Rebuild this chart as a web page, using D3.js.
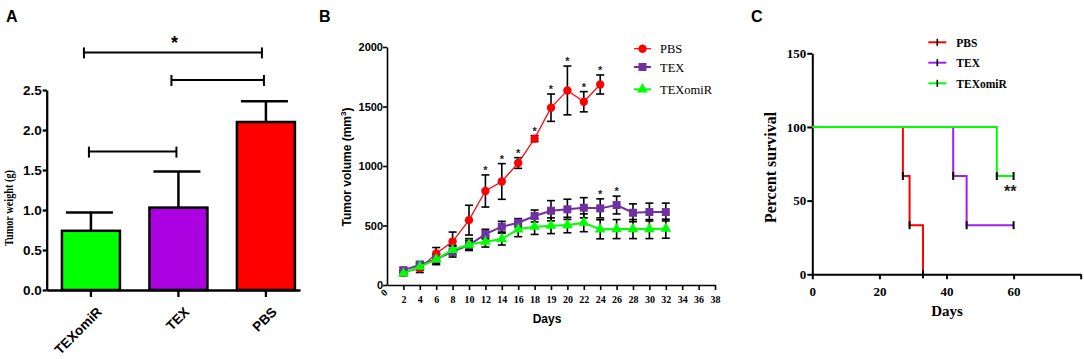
<!DOCTYPE html>
<html>
<head>
<meta charset="utf-8">
<script src="https://cdn.jsdelivr.net/npm/d3@7"></script>
<style>
  body { margin: 0; background: #fff; }
  svg { display: block; }
</style>
</head>
<body>
<div id="chart"></div>
<script>
const width = 1084;
const height = 359;
const sans = "Arial, 'Liberation Sans', sans-serif";
const serif = "'Times New Roman', 'Liberation Serif', serif";

// ---- Panel A data : tumour weight
const groupsA = ["TEXomiR", "TEX", "PBS"];
const weightMean = [0.74, 1.03, 2.1];
const weightErr = [0.23, 0.45, 0.26];
const weightTicks = [0, 0.5, 1.0, 1.5, 2.0, 2.5];
const colorsA = ["#00ff00", "#ab00e0", "#ff0000"];

// ---- Panel B data : tumour volume over time (x = position in dayLabels)
const dayLabels = ["2","4","6","8","10","12","14","16","18","19","20","22","24","26","28","30","32","34","36","38"];
const pbsMean = [105, 140, 265, 365, 545, 790, 870, 1025, 1230, 1490, 1635, 1540, 1685];
const pbsErr  = [20, 35, 50, 80, 125, 135, 150, 45, 25, 115, 205, 85, 80];
const texMean = [125, 168, 218, 280, 336, 428, 490, 523, 580, 624, 636, 649, 644, 672, 607, 613, 613];
const texErr  = [20, 30, 40, 45, 40, 40, 45, 35, 50, 85, 85, 85, 80, 75, 75, 75, 75];
const omiMean = [98, 154, 216, 294, 340, 364, 386, 468, 490, 498, 504, 523, 468, 470, 470, 470, 473];
const omiErr  = [20, 30, 45, 40, 50, 45, 50, 62, 65, 66, 65, 75, 80, 80, 80, 80, 80];
const pbsStars = [5, 6, 7, 8, 9, 10, 11, 12];   // indexes with "*"
const texStars = [12, 13];
const volumeTicks = [0, 500, 1000, 1500, 2000];

// ---- Panel C data : survival
const pbsSurv = [[0, 100], [27, 66.7], [29, 33.3], [33, 0]];
const texSurv = [[0, 100], [42, 66.7], [46, 33.3], [60, 33.3]];
const omiSurv = [[0, 100], [55, 66.7], [60, 66.7]];
const pbsCensor = [[27, 66.7], [29, 33.3], [33, 0]];
const texCensor = [[42, 66.7], [46, 33.3], [60, 33.3]];
const omiCensor = [[55, 66.7], [60, 66.7]];
const survYTicks = [0, 50, 100, 150];
const survXTicks = [0, 20, 40, 60, 80];
const survXLabels = ["0", "20", "40", "60", ""];

const svg = d3.select("#chart")
  .append("svg")
  .attr("width", width)
  .attr("height", height);

// panel letters
svg.selectAll("text.panel")
  .data([["A", 6], ["B", 319], ["C", 751]])
  .join("text")
    .attr("class", "panel")
    .attr("x", d => d[1])
    .attr("y", 22)
    .attr("font-family", sans)
    .attr("font-weight", "bold")
    .attr("font-size", 16)
    .text(d => d[0]);

const styleAxis = (g, font, size, weight, lw) => {
  g.selectAll("text").attr("font-family", font).attr("font-size", size).attr("font-weight", weight).attr("fill", "#000");
  g.selectAll("line, path").attr("stroke", "#000").attr("stroke-width", lw);
};

/*----------------------------- */
// Panel A : bar chart
const xA = d3.scaleBand()
  .domain(groupsA)
  .range([46.7, 300])
  .paddingInner(0.337)
  .paddingOuter(0.116)
  .align(0.75);

const yA = d3.scaleLinear().domain([0, 2.5]).range([290, 90]);

const gA = svg.append("g");

gA.selectAll("line.errA")
  .data(groupsA)
  .join("line")
    .attr("class", "errA")
    .attr("x1", d => xA(d) + xA.bandwidth() / 2)
    .attr("x2", d => xA(d) + xA.bandwidth() / 2)
    .attr("y1", (d, i) => yA(weightMean[i]))
    .attr("y2", (d, i) => yA(weightMean[i] + weightErr[i]))
    .attr("stroke", "#000")
    .attr("stroke-width", 2.5);

gA.selectAll("line.capA")
  .data(groupsA)
  .join("line")
    .attr("class", "capA")
    .attr("x1", d => xA(d) + xA.bandwidth() / 2 - 25)
    .attr("x2", d => xA(d) + xA.bandwidth() / 2 + 22)
    .attr("y1", (d, i) => yA(weightMean[i] + weightErr[i]))
    .attr("y2", (d, i) => yA(weightMean[i] + weightErr[i]))
    .attr("stroke", "#000")
    .attr("stroke-width", 2.5);

gA.selectAll("rect")
  .data(groupsA)
  .join("rect")
    .attr("x", d => xA(d))
    .attr("width", xA.bandwidth())
    .attr("y", (d, i) => yA(weightMean[i]))
    .attr("height", (d, i) => yA(0) - yA(weightMean[i]))
    .attr("fill", (d, i) => colorsA[i])
    .attr("stroke", "#000")
    .attr("stroke-width", 2.5);

gA.append("g")
  .attr("transform", "translate(46.7,0)")
  .call(d3.axisLeft(yA).tickValues(weightTicks).tickFormat(d3.format(".1f")).tickSize(4).tickPadding(1).tickSizeOuter(0))
  .call(g => styleAxis(g, sans, 13.5, "bold", 2.3));

gA.append("g")
  .attr("transform", "translate(0,290)")
  .call(d3.axisBottom(xA).tickSize(7).tickSizeOuter(0))
  .call(g => styleAxis(g, sans, 13.5, "bold", 2.3))
  .call(g => g.selectAll(".tick text")
    .attr("text-anchor", "end")
    .attr("y", 0)
    .attr("dy", "0.71em")
    .attr("transform", "translate(5,16) rotate(-45)"));

gA.append("text")
  .attr("transform", "translate(13,208) rotate(-90)")
  .attr("text-anchor", "middle")
  .attr("font-family", serif)
  .attr("font-weight", "bold")
  .attr("font-size", 13)
  .attr("textLength", 76)
  .attr("lengthAdjust", "spacingAndGlyphs")
  .text("Tumor weight (g)");

// significance brackets, heights in weight units
const brackets = [["TEXomiR", "PBS", 2.97, -7, -4], ["TEX", "PBS", 2.625, -7, -2], ["TEXomiR", "TEX", 1.73, -2, -2]];
brackets.forEach(([a, b, v, da, db]) => {
  const x1 = xA(a) + xA.bandwidth() / 2 + da;
  const x2 = xA(b) + xA.bandwidth() / 2 + db;
  const g = gA.append("g").attr("stroke", "#000").attr("stroke-width", 2);
  g.append("line").attr("x1", x1).attr("x2", x2).attr("y1", yA(v)).attr("y2", yA(v));
  g.append("line").attr("x1", x1).attr("x2", x1).attr("y1", yA(v) - 5).attr("y2", yA(v) + 6);
  g.append("line").attr("x1", x2).attr("x2", x2).attr("y1", yA(v) - 5).attr("y2", yA(v) + 6);
});

gA.append("text")
  .attr("x", (xA("TEXomiR") + xA("PBS") + xA.bandwidth()) / 2 - 4)
  .attr("y", yA(2.97) - 3)
  .attr("text-anchor", "middle")
  .attr("font-family", sans)
  .attr("font-weight", "bold")
  .attr("font-size", 18)
  .text("*");

/*----------------------------- */
// Panel B : growth curves
const xB = d3.scaleLinear().domain([0, dayLabels.length]).range([387, 715]);
const yB = d3.scaleLinear().domain([0, 2000]).range([285, 47]);

const gB = svg.append("g");

gB.append("g")
  .attr("transform", "translate(387,0)")
  .call(d3.axisLeft(yB).tickValues(volumeTicks).tickFormat(d3.format("d")).tickSize(4).tickPadding(0).tickSizeOuter(0))
  .call(g => styleAxis(g, sans, 11, "bold", 1.6));

gB.append("g")
  .attr("transform", "translate(0,285)")
  .call(d3.axisBottom(xB).tickValues(d3.range(0, dayLabels.length + 1)).tickFormat(i => i === 0 ? "0" : dayLabels[i - 1]).tickSize(5).tickPadding(6).tickSizeOuter(0))
  .call(g => styleAxis(g, serif, 10, "bold", 1.6))
  .call(g => g.selectAll(".tick").filter(d => d === 0).select("line").remove())
  .call(g => g.selectAll(".tick").filter(d => d === 0).select("text")
    .attr("y", 0).attr("dy", 0)
    .attr("transform", "translate(-1,10) rotate(-45)"));

gB.append("text")
  .attr("transform", "translate(350.5,167) rotate(-90)")
  .attr("text-anchor", "middle")
  .attr("font-family", sans)
  .attr("font-weight", "bold")
  .attr("font-size", 12)
  .call(t => t.append("tspan").text("Tumor volume (mm"))
  .call(t => t.append("tspan").attr("dy", -5).attr("font-size", 8).text("3"))
  .call(t => t.append("tspan").attr("dy", 5).text(")"));

gB.append("text")
  .attr("x", 547)
  .attr("y", 323)
  .attr("text-anchor", "middle")
  .attr("font-family", sans)
  .attr("font-weight", "bold")
  .attr("font-size", 12)
  .text("Days");

const seriesB = [
  { name: "PBS", mean: pbsMean, err: pbsErr, color: "#ff0000", lw: 1.2, shape: d3.symbolCircle, size: 55, stars: pbsStars },
  { name: "TEX", mean: texMean, err: texErr, color: "#7030a0", lw: 2, shape: d3.symbolSquare, size: 64, stars: texStars },
  { name: "TEXomiR", mean: omiMean, err: omiErr, color: "#00ff00", lw: 2, shape: d3.symbolTriangle, size: 50, stars: [] }
];

// error bars first so the curves sit on top
seriesB.forEach(s => {
  const eb = gB.append("g").attr("stroke", "#000").attr("stroke-width", 1.6);
  s.mean.forEach((m, i) => {
    const x = xB(i + 1);
    eb.append("line").attr("x1", x).attr("x2", x).attr("y1", yB(m - s.err[i])).attr("y2", yB(m + s.err[i]));
    eb.append("line").attr("x1", x - 4).attr("x2", x + 4).attr("y1", yB(m - s.err[i])).attr("y2", yB(m - s.err[i]));
    eb.append("line").attr("x1", x - 4).attr("x2", x + 4).attr("y1", yB(m + s.err[i])).attr("y2", yB(m + s.err[i]));
  });
});

const lineB = d3.line().x((d, i) => xB(i + 1)).y(d => yB(d));

seriesB.forEach(s => {
  gB.append("path")
    .datum(s.mean)
    .attr("d", lineB)
    .attr("fill", "none")
    .attr("stroke", s.color)
    .attr("stroke-width", s.lw);

  gB.selectAll(null)
    .data(s.mean)
    .join("path")
      .attr("transform", (d, i) => `translate(${xB(i + 1)},${yB(d)})`)
      .attr("d", d3.symbol(s.shape, s.size))
      .attr("fill", s.color);

  gB.selectAll(null)
    .data(s.stars)
    .join("text")
      .attr("x", i => xB(i + 1))
      .attr("y", i => yB(s.mean[i] + s.err[i]) - 1)
      .attr("text-anchor", "middle")
      .attr("font-family", sans)
      .attr("font-weight", "bold")
      .attr("font-size", 11)
      .attr("fill", "#222")
      .text("*");
});

// legend B
const legB = gB.selectAll("g.legB")
  .data(seriesB)
  .join("g")
    .attr("class", "legB")
    .attr("transform", (d, i) => `translate(634,${[48.7, 67, 89.3][i]})`);
legB.append("line").attr("x1", 0).attr("x2", 17).attr("stroke", d => d.color).attr("stroke-width", d => d.lw);
legB.append("path").attr("transform", "translate(8.5,0)").attr("d", d => d3.symbol(d.shape, d.size)()).attr("fill", d => d.color);
legB.append("text")
  .attr("x", 26)
  .attr("y", 4.5)
  .attr("font-family", serif)
  .attr("font-size", 12.5)
  .text(d => d.name);

/*----------------------------- */
// Panel C : survival curves
const xC = d3.scaleLinear().domain([0, 80]).range([812.3, 1080.7]);
const yC = d3.scaleLinear().domain([0, 150]).range([274.3, 53.3]);

const gC = svg.append("g");

gC.append("g")
  .attr("transform", "translate(812.3,0)")
  .call(d3.axisLeft(yC).tickValues(survYTicks).tickSize(5).tickPadding(1).tickSizeOuter(0))
  .call(g => styleAxis(g, serif, 13, "bold", 2));

gC.append("g")
  .attr("transform", "translate(0,274.3)")
  .call(d3.axisBottom(xC).tickValues(survXTicks).tickFormat((d, i) => survXLabels[i]).tickSize(5).tickPadding(7).tickSizeOuter(0))
  .call(g => styleAxis(g, serif, 13, "bold", 2));

gC.append("text")
  .attr("transform", "translate(776,167.5) rotate(-90)")
  .attr("text-anchor", "middle")
  .attr("font-family", serif)
  .attr("font-weight", "bold")
  .attr("font-size", 16)
  .text("Percent survival");

gC.append("text")
  .attr("x", 947)
  .attr("y", 316)
  .attr("text-anchor", "middle")
  .attr("font-family", serif)
  .attr("font-weight", "bold")
  .attr("font-size", 15)
  .text("Days");

const seriesC = [
  { name: "PBS", data: pbsSurv, censor: pbsCensor, color: "#ff0000" },
  { name: "TEX", data: texSurv, censor: texCensor, color: "#a020f0" },
  { name: "TEXomiR", data: omiSurv, censor: omiCensor, color: "#00ff00" }
];

const lineC = d3.line().curve(d3.curveStepAfter).x(d => xC(d[0])).y(d => yC(d[1]));

seriesC.forEach(s => {
  gC.append("path")
    .datum(s.data)
    .attr("d", lineC)
    .attr("fill", "none")
    .attr("stroke", s.color)
    .attr("stroke-width", 2);
});

seriesC.forEach(s => {
  gC.selectAll(null)
    .data(s.censor)
    .join("line")
      .attr("x1", d => xC(d[0]))
      .attr("x2", d => xC(d[0]))
      .attr("y1", d => yC(d[1]) - 4)
      .attr("y2", d => yC(d[1]) + 4)
      .attr("stroke", "#000")
      .attr("stroke-width", 2);
});

gC.append("text")
  .attr("x", xC(59))
  .attr("y", yC(66.7) + 21)
  .attr("text-anchor", "middle")
  .attr("font-family", sans)
  .attr("font-weight", "bold")
  .attr("font-size", 16)
  .attr("fill", "#222")
  .text("**");

// legend C
const legC = gC.selectAll("g.legC")
  .data(seriesC)
  .join("g")
    .attr("class", "legC")
    .attr("transform", (d, i) => `translate(928.3,${[42.3, 62.7, 83.3][i]})`);
legC.append("line").attr("x1", 0).attr("x2", 18).attr("stroke", d => d.color).attr("stroke-width", 2);
legC.append("line").attr("x1", 9).attr("x2", 9).attr("y1", -3.5).attr("y2", 3.5).attr("stroke", "#000").attr("stroke-width", 1.6);
legC.append("text")
  .attr("x", 28)
  .attr("y", 4.2)
  .attr("font-family", serif)
  .attr("font-weight", "bold")
  .attr("font-size", 11.5)
  .text(d => d.name);
</script>
</body>
</html>
